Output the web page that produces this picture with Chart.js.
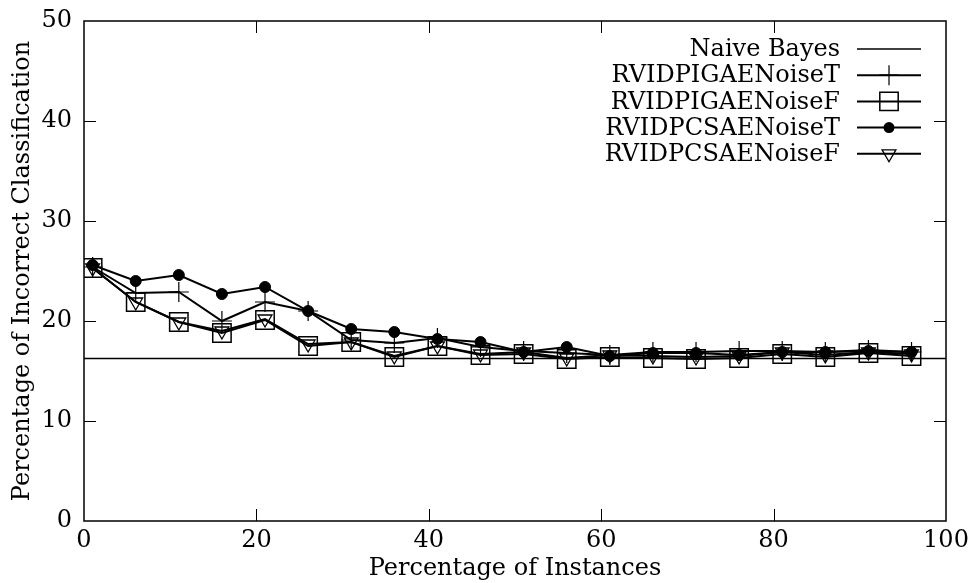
<!DOCTYPE html>
<html>
<head>
<meta charset="utf-8">
<script src="https://cdn.jsdelivr.net/npm/chart.js@4/dist/chart.umd.min.js"></script>
<style>
    html, body { margin: 0; padding: 0; background: #fff; }
    #wrap { width: 971px; height: 583px; }
</style>
</head>
<body>
<div id="wrap"><canvas id="myChart" width="971" height="583"></canvas></div>
<script>
// x positions (percentage of instances)
var xValues = [1, 6, 11, 16, 21, 26, 31, 36, 41, 46, 51, 56, 61, 66, 71, 76, 81, 86, 91, 96];

// naive bayes is a flat reference line
var naiveBayes = 16.25;
var naiveRange = [0, 100];

var pigaNoiseT = [25.4, 22.8, 22.9, 20.0, 21.9, 21.0, 18.1, 17.8, 18.3, 17.4, 17.0, 16.8, 16.6, 16.9, 16.9, 17.0, 17.0, 16.9, 17.1, 16.9];
var pigaNoiseF = [25.3, 21.9, 19.9, 18.8, 20.1, 17.5, 17.9, 16.4, 17.5, 16.6, 16.7, 16.2, 16.4, 16.3, 16.2, 16.3, 16.7, 16.4, 16.8, 16.5];
var pcsaNoiseT = [25.6, 24.0, 24.6, 22.7, 23.4, 21.0, 19.2, 18.9, 18.2, 17.9, 16.9, 17.4, 16.5, 16.8, 16.8, 16.6, 16.9, 16.9, 17.0, 16.9];
var pcsaNoiseF = [25.3, 21.9, 19.9, 19.0, 20.2, 17.7, 17.9, 16.5, 17.5, 16.7, 16.9, 16.3, 16.6, 16.5, 16.4, 16.5, 16.9, 16.6, 16.9, 16.7];

var seriesLabels = ["Naive Bayes", "RVIDPIGAENoiseT", "RVIDPIGAENoiseF", "RVIDPCSAENoiseT", "RVIDPCSAENoiseF"];

var xTicks = [0, 20, 40, 60, 80, 100];
var yTicks = [0, 10, 20, 30, 40, 50];

var FONT = "'DejaVu Serif', 'Liberation Serif', serif";
var FONT_SIZE = 24;

function toPoints(values) {
    return values.map(function (v, i) { return { x: xValues[i], y: v }; });
}

// draws a marker like gnuplot does (used for the legend samples)
function drawMarker(ctx, ds, x, y) {
    var r = ds.pointRadius;
    if (!r) return;
    ctx.save();
    ctx.strokeStyle = "#000";
    ctx.fillStyle = "#000";
    ctx.lineWidth = ds.pointBorderWidth;
    ctx.beginPath();
    if (ds.pointStyle === "cross") {
        ctx.moveTo(x - r, y); ctx.lineTo(x + r, y);
        ctx.moveTo(x, y - r); ctx.lineTo(x, y + r);
        ctx.stroke();
    } else if (ds.pointStyle === "rect") {
        var s = r * Math.SQRT1_2;
        ctx.rect(x - s, y - s, 2 * s, 2 * s);
        ctx.stroke();
    } else if (ds.pointStyle === "circle") {
        ctx.arc(x, y, r, 0, Math.PI * 2);
        ctx.fill();
    } else if (ds.pointStyle === "triangle") {
        var w = r * Math.sqrt(3);
        ctx.moveTo(x - w / 2, y - r / 2);
        ctx.lineTo(x + w / 2, y - r / 2);
        ctx.lineTo(x, y + r);
        ctx.closePath();
        ctx.stroke();
    }
    ctx.restore();
}

// box round the plot, inward ticks on all four sides, and the legend
var framePlugin = {
    id: "frame",
    afterDraw: function (chart) {
        var ctx = chart.ctx;
        var a = chart.chartArea;
        var xs = chart.scales.x, ys = chart.scales.y;
        var tick = 12;

        ctx.save();
        ctx.strokeStyle = "#000";
        ctx.lineWidth = 1;
        ctx.beginPath();
        xTicks.forEach(function (v) {
            var px = Math.round(xs.getPixelForValue(v)) + 0.5;
            if (v === 0 || v === 100) return;
            ctx.moveTo(px, a.bottom); ctx.lineTo(px, a.bottom - tick);
            ctx.moveTo(px, a.top); ctx.lineTo(px, a.top + tick);
        });
        yTicks.forEach(function (v) {
            var py = Math.round(ys.getPixelForValue(v)) + 0.5;
            if (v === 0 || v === 50) return;
            ctx.moveTo(a.left, py); ctx.lineTo(a.left + tick, py);
            ctx.moveTo(a.right, py); ctx.lineTo(a.right - tick, py);
        });
        ctx.stroke();

        ctx.lineWidth = 1.5;
        ctx.strokeRect(a.left, a.top, a.right - a.left, a.bottom - a.top);

        // legend, top right, text right aligned with sample to its right
        ctx.font = FONT_SIZE + "px " + FONT;
        ctx.textAlign = "right";
        ctx.textBaseline = "middle";
        ctx.fillStyle = "#000";
        chart.data.datasets.forEach(function (ds, i) {
            var y = a.top + 28 + 26.2 * i;
            var textRight = a.right - 106;
            var x0 = a.right - 89, x1 = a.right - 25;
            ctx.fillText(ds.label, textRight, y + 1);
            ctx.lineWidth = ds.borderWidth;
            ctx.beginPath();
            ctx.moveTo(x0, y); ctx.lineTo(x1, y);
            ctx.stroke();
            drawMarker(ctx, ds, (x0 + x1) / 2, y);
        });
        ctx.restore();
    }
};

var ctx = document.getElementById("myChart");

var chart = new Chart(ctx, {
    type: "line",
    data: {
        datasets: [
            {
                label: seriesLabels[0],
                data: naiveRange.map(function (x) { return { x: x, y: naiveBayes }; }),
                borderColor: "#000",
                borderWidth: 1.3,
                pointRadius: 0,
                order: 5
            },
            {
                label: seriesLabels[1],
                data: toPoints(pigaNoiseT),
                borderColor: "#000",
                borderWidth: 2,
                pointStyle: "cross",
                pointRadius: 10,
                pointBorderWidth: 1.2,
                pointBorderColor: "#000",
                order: 4
            },
            {
                label: seriesLabels[2],
                data: toPoints(pigaNoiseF),
                borderColor: "#000",
                borderWidth: 2,
                pointStyle: "rect",
                pointRadius: 13,
                pointBorderWidth: 1.5,
                pointBorderColor: "#000",
                pointBackgroundColor: "rgba(0,0,0,0)",
                order: 3
            },
            {
                label: seriesLabels[3],
                data: toPoints(pcsaNoiseT),
                borderColor: "#000",
                borderWidth: 2,
                pointStyle: "circle",
                pointRadius: 5.5,
                pointBorderWidth: 1,
                pointBorderColor: "#000",
                pointBackgroundColor: "#000",
                order: 2
            },
            {
                label: seriesLabels[4],
                data: toPoints(pcsaNoiseF),
                borderColor: "#000",
                borderWidth: 2,
                pointStyle: "triangle",
                pointRotation: 180,
                pointRadius: 8,
                pointBorderWidth: 1.3,
                pointBorderColor: "#000",
                pointBackgroundColor: "rgba(0,0,0,0)",
                order: 1
            }
        ]
    },
    options: {
        responsive: false,
        animation: false,
        devicePixelRatio: 1,
        layout: { padding: { top: 21, right: 25, left: 0, bottom: 0 } },
        elements: { line: { tension: 0 } },
        plugins: {
            legend: { display: false },
            tooltip: { enabled: false }
        },
        scales: {
            x: {
                type: "linear",
                min: 0,
                max: 100,
                grid: { display: false, drawTicks: false },
                border: { display: false },
                afterBuildTicks: function (scale) {
                    scale.ticks = xTicks.map(function (v) { return { value: v }; });
                },
                afterFit: function (scale) {
                    scale.height = 62;
                    scale.paddingLeft = 0;
                    scale.paddingRight = 0;
                },
                ticks: {
                    color: "#000",
                    padding: 5,
                    maxRotation: 0,
                    font: { family: FONT, size: FONT_SIZE }
                },
                title: {
                    display: true,
                    text: "Percentage of Instances",
                    color: "#000",
                    padding: { top: -6, bottom: 0 },
                    font: { family: FONT, size: FONT_SIZE }
                }
            },
            y: {
                type: "linear",
                min: 0,
                max: 50,
                grid: { display: false, drawTicks: false },
                border: { display: false },
                afterBuildTicks: function (scale) {
                    scale.ticks = yTicks.map(function (v) { return { value: v }; });
                },
                afterFit: function (scale) {
                    scale.width = 84;
                    scale.paddingTop = 0;
                    scale.paddingBottom = 0;
                },
                ticks: {
                    color: "#000",
                    padding: 12,
                    font: { family: FONT, size: FONT_SIZE }
                },
                title: {
                    display: true,
                    text: "Percentage of Incorrect Classification",
                    color: "#000",
                    padding: { top: 8, bottom: 0 },
                    font: { family: FONT, size: FONT_SIZE }
                }
            }
        }
    },
    plugins: [framePlugin]
});
</script>
</body>
</html>
